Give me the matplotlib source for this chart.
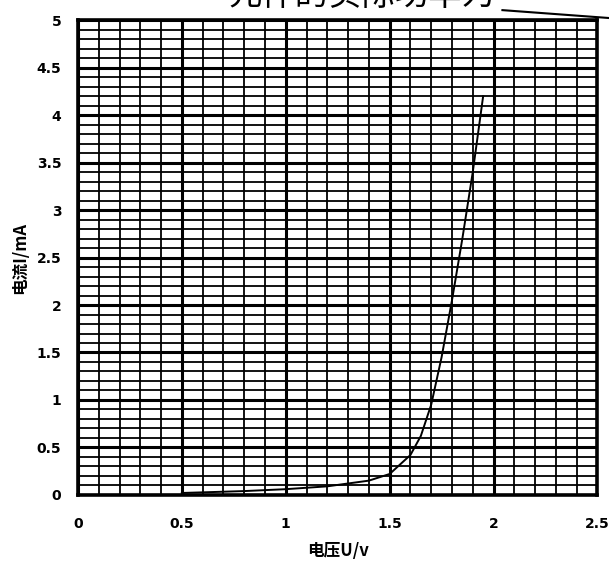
import numpy as np
import matplotlib
matplotlib.use("Agg")
import matplotlib.pyplot as plt
from matplotlib.lines import Line2D

plt.rcParams['font.family'] = ['Noto Sans CJK SC', 'DejaVu Sans']

# I-U curve
voltage = [0.5, 0.8, 1.0, 1.2, 1.4, 1.5, 1.6, 1.65, 1.7, 1.75, 1.8, 1.85, 1.9, 1.95]
current = [0.02, 0.04, 0.06, 0.09, 0.15, 0.22, 0.42, 0.62, 0.95, 1.45, 2.05, 2.7, 3.4, 4.2]

x_ticks = [0, 0.5, 1, 1.5, 2, 2.5]
x_labels = ["0", "0.5", "1", "1.5", "2", "2.5"]
y_ticks = [0, 0.5, 1, 1.5, 2, 2.5, 3, 3.5, 4, 4.5, 5]
y_labels = ["0", "0.5", "1", "1.5", "2", "2.5", "3", "3.5", "4", "4.5", "5"]

fig = plt.figure(figsize=(6.09, 5.63), dpi=100)
ax = fig.add_axes([0.128, 0.121, 0.853, 0.843])

ax.plot(voltage, current, color="black", lw=1.4, zorder=3)

ax.set_xlim(0, 2.5)
ax.set_ylim(0, 5)
ax.set_xticks(x_ticks)
ax.set_xticklabels(x_labels, fontweight="bold", fontsize=10, family="DejaVu Sans")
ax.set_yticks(y_ticks)
ax.set_yticklabels(y_labels, fontweight="bold", fontsize=10, family="DejaVu Sans")
ax.set_xticks(np.arange(0, 2.51, 0.1), minor=True)
ax.set_yticks(np.arange(0, 5.01, 0.1), minor=True)
ax.tick_params(which="both", length=0)
ax.tick_params(axis="x", pad=16)
ax.tick_params(axis="y", pad=12)

ax.grid(which="major", color="black", lw=2.2)
ax.grid(which="minor", color="black", lw=1.3)
ax.set_axisbelow(True)
for s in ax.spines.values():
    s.set_linewidth(2.6)

ax.set_xlabel("电压U/v", fontsize=12, fontweight="bold", labelpad=8)
ax.set_ylabel("电流I/mA", fontsize=12, fontweight="bold", labelpad=5)

# cropped question text above the chart
fig.text(0.595, 1.008, "元件的实际功率为", fontsize=24, ha="center", va="center")
fig.add_artist(Line2D([0.825, 1.0], [0.982, 0.968], color="black", lw=1.5,
                      transform=fig.transFigure))

fig.savefig("out.png", dpi=100)
